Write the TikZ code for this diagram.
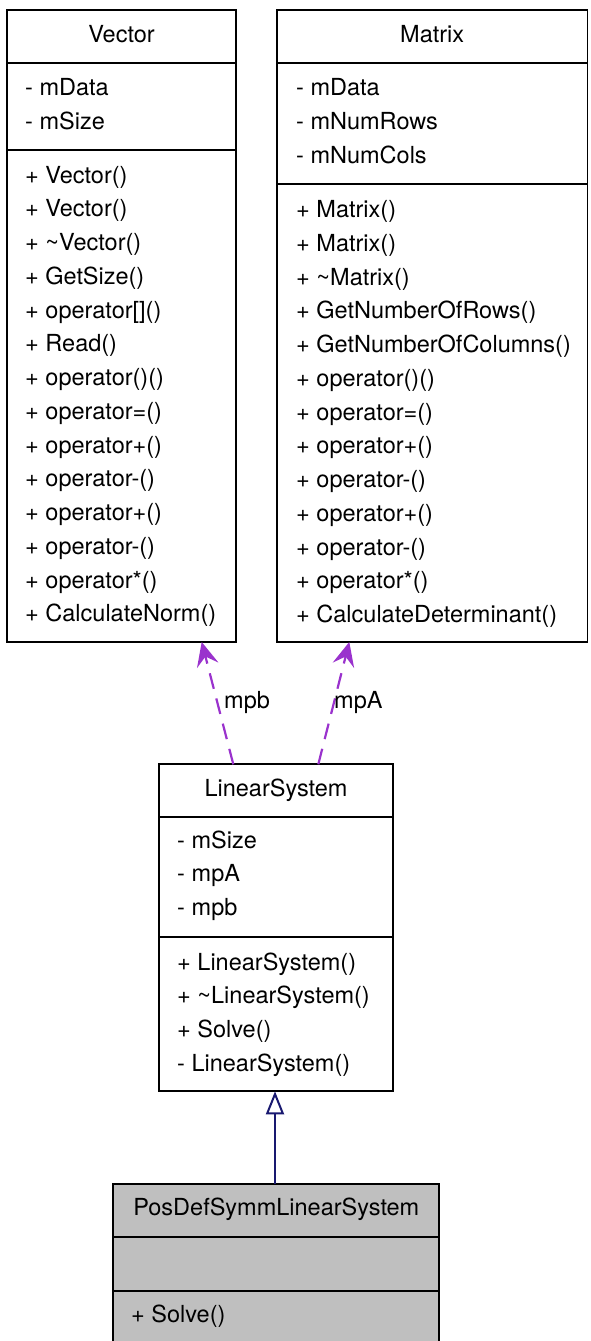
\documentclass[tikz,border=0pt]{standalone}
\usepackage{fontspec}
\setmainfont{TeX Gyre Heros}
\usetikzlibrary{arrows.meta}
\definecolor{deppurple}{HTML}{9A32CD}
\definecolor{inhblue}{HTML}{191970}
\definecolor{boxgray}{HTML}{BFBFBF}
\begin{document}
\begin{tikzpicture}[x=1pt,y=-1pt,
  umlbox/.style={draw=black, line width=1.8pt, rectangle, inner sep=0pt, outer sep=0pt, anchor=north west},
  divider/.style={draw=black, line width=1.8pt},
  txt/.style={anchor=base west, inner sep=0pt, font=\fontsize{23.5}{27}\selectfont},
  ttl/.style={anchor=base, inner sep=0pt, font=\fontsize{23.5}{27}\selectfont},
  dep/.style={draw=deppurple, line width=2.2pt, dash pattern=on 16pt off 10pt,
              -{Stealth[length=24pt,width=22pt,inset=9pt]}},
  inh/.style={draw=inhblue, line width=2pt,
              -{Triangle[open,length=23pt,width=18pt,line width=2pt]}},
]
\useasboundingbox (0,0) rectangle (590,1341);

% ---------- Vector ----------
\node[umlbox, minimum width=229pt, minimum height=632pt] (vector) at (7,10) {};
\draw[divider] (vector.west |- 0,62.7) -- (vector.east |- 0,62.7);
\draw[divider] (vector.west |- 0,150) -- (vector.east |- 0,150);
\node[ttl] (vtitle) at (121.5,42) {Vector};
\foreach \t [count=\i] in {- mData, - mSize}
  \node[txt] (va\i) at (25,{95.5+(\i-1)*33.75}) {\t};
\foreach \t [count=\i] in {+ Vector(), + Vector(), + \textasciitilde Vector(), + GetSize(),
   {+ operator[]()}, + Read(), + operator()(), + operator=(), + operator+(), + operator-(),
   + operator+(), + operator-(), + operator*(), + CalculateNorm()}
  \node[txt] (vm\i) at (25,{183+(\i-1)*33.75}) {\t};

% ---------- Matrix ----------
\node[umlbox, minimum width=310.5pt, minimum height=632pt] (matrix) at (277,10) {};
\draw[divider] (matrix.west |- 0,62.7) -- (matrix.east |- 0,62.7);
\draw[divider] (matrix.west |- 0,184) -- (matrix.east |- 0,184);
\node[ttl] (mtitle) at (432.2,42) {Matrix};
\foreach \t [count=\i] in {- mData, - mNumRows, - mNumCols}
  \node[txt] (ma\i) at (296,{95.5+(\i-1)*33.75}) {\t};
\foreach \t [count=\i] in {+ Matrix(), + Matrix(), + \textasciitilde Matrix(), + GetNumberOfRows(),
   + GetNumberOfColumns(), + operator()(), + operator=(), + operator+(), + operator-(),
   + operator+(), + operator-(), + operator*(), + CalculateDeterminant()}
  \node[txt] (mm\i) at (296,{217.5+(\i-1)*33.75}) {\t};

% ---------- LinearSystem ----------
\node[umlbox, minimum width=234pt, minimum height=327pt] (ls) at (159,764.3) {};
\draw[divider] (ls.west |- 0,816.7) -- (ls.east |- 0,816.7);
\draw[divider] (ls.west |- 0,937) -- (ls.east |- 0,937);
\node[ttl] (lstitle) at (276,796) {LinearSystem};
\foreach \t [count=\i] in {- mSize, - mpA, - mpb}
  \node[txt] (la\i) at (177,{848+(\i-1)*33.75}) {\t};
\foreach \t [count=\i] in {+ LinearSystem(), + \textasciitilde LinearSystem(), + Solve(), - LinearSystem()}
  \node[txt] (lm\i) at (177,{970+(\i-1)*33.75}) {\t};

% ---------- PosDefSymmLinearSystem ----------
\node[umlbox, fill=boxgray, minimum width=326pt, minimum height=165pt] (pd) at (113.3,1184.3) {};
\draw[divider] (pd.west |- 0,1237) -- (pd.east |- 0,1237);
\draw[divider] (pd.west |- 0,1290.7) -- (pd.east |- 0,1290.7);
\node[ttl] (pdtitle) at (276.3,1215.5) {PosDefSymmLinearSystem};
\node[txt] (pm1) at (131,1322.5) {+ Solve()};

% ---------- connectors ----------
\draw[dep] (ls.north -| 233.3,0) -- (vector.south -| 201.7,0);
\draw[dep] (ls.north -| 318.3,0) -- (matrix.south -| 349.3,0);
\node[txt] (lblmpb) at (224,708) {mpb};
\node[txt] (lblmpa) at (334,708) {mpA};
\draw[inh] (pd.north -| 275,0) -- (ls.south -| 275,0);
\end{tikzpicture}
\end{document}
